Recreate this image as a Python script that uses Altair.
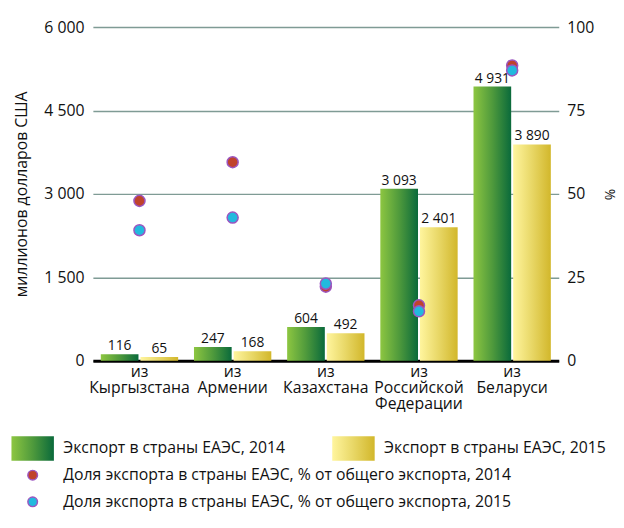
import altair as alt
import pandas as pd

countries = ["из\nКыргызстана", "из\nАрмении", "из\nКазахстана", "из\nРоссийской\nФедерации", "из\nБеларуси"]
years = ["2014", "2015"]
export_2014 = [116, 247, 604, 3093, 4931]
export_2015 = [65, 168, 492, 2401, 3890]
share_2014 = [47.9, 59.5, 22.2, 16.6, 88.5]
share_2015 = [39.1, 42.9, 23.1, 14.8, 87.0]

y_ticks = [0, 1500, 3000, 4500, 6000]
pct_ticks = [0, 25, 50, 75, 100]

legend_labels = [
    "Экспорт в страны ЕАЭС, 2014",
    "Экспорт в страны ЕАЭС, 2015",
    "Доля экспорта в страны ЕАЭС, % от общего экспорта, 2014",
    "Доля экспорта в страны ЕАЭС, % от общего экспорта, 2015",
]
legend_kind = ["bar2014", "bar2015", "dot2014", "dot2015"]
legend_col = [0, 1, 0, 0]
legend_row = [0, 0, 1, 2]

FONT = "Open Sans"
GRID = "#7f9b95"
RED = "#c0432b"
BLUE = "#22b9de"
RING = "#9b55c0"

bars_df = pd.DataFrame({
    "country": countries * 2,
    "year": [years[0]] * 5 + [years[1]] * 5,
    "value": export_2014 + export_2015,
})
share_df = pd.DataFrame({
    "country": countries * 2,
    "year": [years[0]] * 5 + [years[1]] * 5,
    "share": share_2014 + share_2015,
})
legend_df = pd.DataFrame({
    "label": legend_labels, "kind": legend_kind,
    "col": legend_col, "row": legend_row,
})

grad14 = alt.Gradient(gradient="linear", x1=0, x2=1, y1=0, y2=0, stops=[
    alt.GradientStop(color="#8dc641", offset=0),
    alt.GradientStop(color="#4f9a3c", offset=0.5),
    alt.GradientStop(color="#0a6a3b", offset=1)])
grad15 = alt.Gradient(gradient="linear", x1=0, x2=1, y1=0, y2=0, stops=[
    alt.GradientStop(color="#fff59e", offset=0),
    alt.GradientStop(color="#e8d766", offset=0.5),
    alt.GradientStop(color="#d2b72b", offset=1)])

X = alt.X("country:N", sort=countries, title=None,
          scale=alt.Scale(paddingInner=0.17, paddingOuter=0.085),
          axis=alt.Axis(labelAngle=0, labelExpr="split(datum.label, '\\n')",
                        ticks=False, domainColor="#000000", domainWidth=3,
                        labelFont=FONT, labelFontSize=16, labelColor="#111111",
                        labelPadding=3, labelLineHeight=16))
XO = alt.XOffset("year:N", scale=alt.Scale(domain=years, paddingInner=0.05))
Y = alt.Y("value:Q", scale=alt.Scale(domain=[0, 6000]),
          title="миллионов долларов США",
          axis=alt.Axis(values=y_ticks, grid=True, gridColor=GRID, gridWidth=1.5,
                        domain=False, ticks=False, labelPadding=9,
                        labelExpr="replace(format(datum.value, ','), ',', ' ')",
                        labelFont=FONT, labelFontSize=16, labelColor="#111111",
                        titleFont=FONT, titleFontSize=16, titleFontWeight="normal",
                        titleColor="#111111", titlePadding=14))

base = alt.Chart(bars_df)
b14 = base.transform_filter(alt.datum.year == "2014").mark_bar(color=grad14).encode(x=X, xOffset=XO, y=Y)
b15 = base.transform_filter(alt.datum.year == "2015").mark_bar(color=grad15).encode(x=X, xOffset=XO, y=Y)
txt = base.transform_calculate(
    lab="replace(format(datum.value, ','), ',', ' ')"
).mark_text(baseline="bottom", dy=-1, font=FONT, fontSize=14, color="#111111").encode(
    x=X, xOffset=XO, y=Y, text="lab:N")

pts = alt.Chart(share_df).mark_circle(size=125, opacity=1, stroke=RING, strokeWidth=1.5).encode(
    x=X,
    y=alt.Y("share:Q", scale=alt.Scale(domain=[0, 100]), title="%",
            axis=alt.Axis(orient="right", values=pct_ticks, grid=False, domain=False,
                          ticks=False, labelPadding=8,
                          labelFont=FONT, labelFontSize=16, labelColor="#111111",
                          titleFont=FONT, titleFontSize=14, titleFontWeight="normal",
                          titleColor="#111111", titlePadding=8)),
    color=alt.Color("year:N", scale=alt.Scale(domain=years, range=[RED, BLUE]), legend=None),
    order=alt.Order("year:N"),
)

main = alt.layer(alt.layer(b14, b15, txt), pts).resolve_scale(y="independent").properties(
    width=472, height=338)

LX = alt.X("col:O", scale=alt.Scale(type="point", domain=[0, 1], range=[-61, 264], padding=0), axis=None)
LY = alt.Y("row:O", scale=alt.Scale(type="point", domain=[0, 1, 2], range=[36, 90], padding=0), axis=None)
lbase = alt.Chart(legend_df)
lr14 = lbase.transform_filter(alt.datum.kind == "bar2014").mark_rect(width=43, height=25, color=grad14).encode(x=LX, y=LY)
lr15 = lbase.transform_filter(alt.datum.kind == "bar2015").mark_rect(width=43, height=25, color=grad15).encode(x=LX, y=LY)
ldots = lbase.transform_filter("indexof(datum.kind, 'dot') == 0").mark_circle(
    size=95, opacity=1, stroke=RING, strokeWidth=1.5).encode(
    x=LX, y=LY,
    color=alt.Color("kind:N", scale=alt.Scale(domain=["dot2014", "dot2015"], range=[RED, BLUE]), legend=None))
ltext = lbase.mark_text(align="left", baseline="middle", dx=31, font=FONT, fontSize=16, color="#111111").encode(
    x=LX, y=LY, text="label:N")
legend = alt.layer(lr14, lr15, ldots, ltext).properties(width=400, height=90)

chart = alt.vconcat(main, legend, spacing=2).properties(
    padding={"left": 3, "top": 8, "right": 0, "bottom": 0}
).configure_view(stroke=None)

chart.save("out.html", embed_options={"renderer": "svg", "actions": False})
